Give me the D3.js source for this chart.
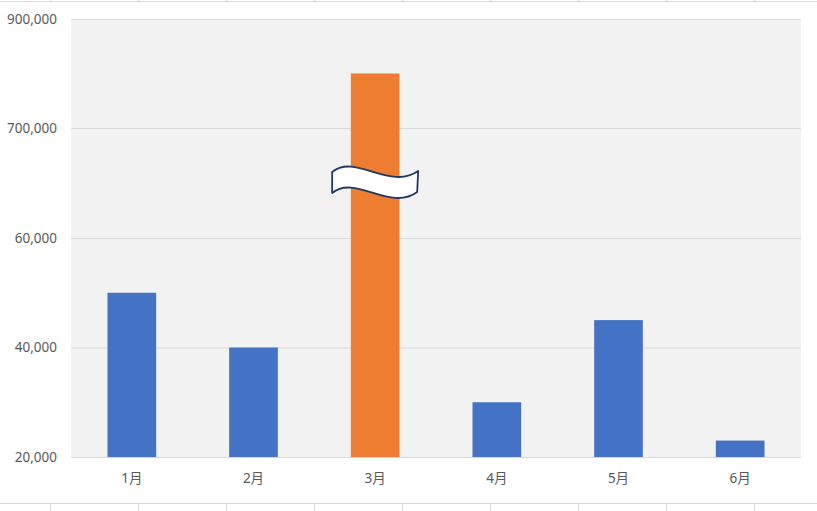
<!DOCTYPE html>
<html><head><meta charset="utf-8">
<script src="https://cdn.jsdelivr.net/npm/d3@7"></script>
<style>body{margin:0;background:#fff}svg{display:block}</style>
</head><body>
<script>
const categories = ["1月","2月","3月","4月","5月","6月"];
const values = [50000, 40000, 800000, 30000, 45000, 23000];
const highlight = [false, false, true, false, false, false];
const yTicks = [20000, 40000, 60000, 700000, 900000];
const yDomain = [20000, 60000, 700000, 900000];
const breakBetween = [60000, 700000];

const W = 817, H = 511;
const m = {left: 71, right: 16, top: 19, bottom: 54};
const svg = d3.select("body").append("svg").attr("width", W).attr("height", H);

// spreadsheet cell lines
svg.append("line").attr("x1",0).attr("x2",W).attr("y1",1.5).attr("y2",1.5).attr("stroke","#d9d9d9");
svg.append("line").attr("x1",0).attr("x2",W).attr("y1",503.5).attr("y2",503.5).attr("stroke","#d9d9d9");
const cellX = d3.range(50, W, 88);
svg.selectAll(".ct").data(cellX).join("line").attr("x1",d=>d+0.5).attr("x2",d=>d+0.5).attr("y1",0).attr("y2",1).attr("stroke","#d9d9d9");
svg.selectAll(".cb").data(cellX).join("line").attr("x1",d=>d+0.5).attr("x2",d=>d+0.5).attr("y1",504).attr("y2",H).attr("stroke","#d9d9d9");

const x = d3.scaleBand().domain(categories).range([m.left, W - m.right]).paddingInner(0.6).paddingOuter(0.3);
const y = d3.scaleLinear().domain(yDomain).range([457, 238, 128, 19]);

svg.append("rect").attr("x", m.left).attr("y", 19).attr("width", W - m.right - m.left).attr("height", 457 - 19).attr("fill", "#f2f2f2");

const yAxis = d3.axisLeft(y).tickValues(yTicks).tickFormat(d3.format(",")).tickSize(-(W - m.right - m.left)).tickPadding(14);
const gy = svg.append("g").attr("transform", `translate(${m.left},0)`).call(yAxis);
gy.select(".domain").remove();
gy.selectAll(".tick line").attr("stroke", "#d9d9d9");
gy.selectAll(".tick text").attr("fill", "#595959").style("font-family", "Noto Sans").style("font-size", "13.5px");

svg.selectAll(".bar").data(categories).join("rect")
  .attr("x", d => x(d)).attr("width", x.bandwidth())
  .attr("y", (d,i) => y(values[i])).attr("height", (d,i) => y(yDomain[0]) - y(values[i]))
  .attr("fill", (d,i) => highlight[i] ? "#ed7d31" : "#4472c4");

const xAxis = d3.axisBottom(x).tickSize(0).tickPadding(16);
const gx = svg.append("g").attr("transform", `translate(0,457)`).call(xAxis);
gx.select(".domain").attr("stroke", "#d9d9d9");
gx.selectAll(".tick text").attr("fill", "#595959").style("font-family", "Noto Sans, Noto Sans CJK JP").style("font-size", "13.5px");

// break symbol
const bi = highlight.indexOf(true);
const cx = x(categories[bi]) + x.bandwidth() / 2;
const cy = (y(breakBetween[0]) + y(breakBetween[1])) / 2;
const p = `M-43,-11 C-20,-30 15,8 43,-12 L42,9 C15,29 -20,-9 -43,10 Z`;
svg.append("path").attr("d", p).attr("transform", `translate(${cx},${cy})`)
  .attr("fill", "#fff").attr("stroke", "#1f3864").attr("stroke-width", 1.8).attr("stroke-linejoin", "round");
</script>
</body></html>
